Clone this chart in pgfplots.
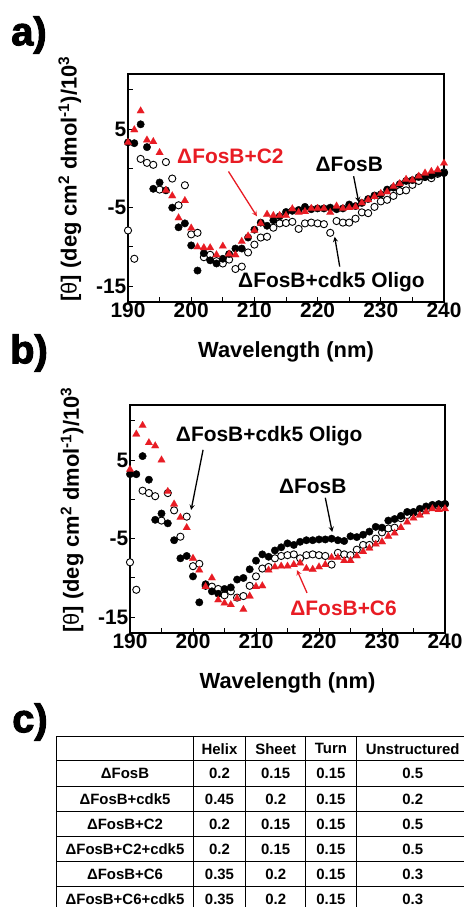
\documentclass[border=0pt]{standalone}
\usepackage{fontspec}
\setmainfont{Liberation Sans}
\newfontfamily\heavyfont{Liberation Sans}[BoldFeatures={FakeBold=2.5}]
\usepackage{pgfplots}
\usepackage{pgfplotstable}
\pgfplotsset{compat=1.18}
\definecolor{cdred}{RGB}{232,28,36}

% panel a: F = dFosB, T = dFosB+C2, O = dFosB+cdk5 oligo
\pgfplotstableread{
nm F T O
190 3.3 3.3 -7.9
191 3.2 4.9 -11.5
192 5.6 7.3 1.2
193 2.7 3.6 0.7
194 -2.6 3.4 0.45
195 -1.8 2.0 -2.7
196 -2.8 -2.8 0.8
197 -5.0 -3.5 -1.3
198 -7.5 -6.3 -4.7
199 -7.0 -4.1 -2.15
200 -9.8 -7.6 -8.4
201 -13.0 -10.0 -8.2
202 -10.8 -10.1 -11.3
203 -11.7 -10.1 -11.0
204 -12.1 -11.0 -11.8
205 -11.5 -9.9 -12.1
206 -10.9 -10.9 -11.6
207 -10.2 -11.0 -12.8
208 -10.2 -9.3 -12.5
209 -8.8 -8.6 -10.7
210 -7.8 -7.9 -9.7
211 -6.9 -7.0 -8.8
212 -7.3 -5.85 -8.7
213 -6.6 -6.0 -7.55
214 -6.1 -6.0 -7.0
215 -5.55 -6.0 -6.95
216 -5.4 -5.15 -6.8
217 -5.3 -5.6 -7.7
218 -4.9 -5.5 -7.0
219 -5.2 -5.1 -6.9
220 -5.1 -5.1 -7.0
221 -5.1 -5.1 -7.1
222 -5.0 -5.6 -8.2
223 -5.2 -4.8 -6.7
224 -5.1 -5.1 -6.9
225 -4.6 -5.0 -6.9
226 -4.8 -4.9 -6.4
227 -4.4 -4.4 -5.6
228 -3.9 -4.0 -5.7
229 -3.45 -3.6 -4.9
230 -3.3 -3.2 -4.2
231 -2.7 -3.0 -4.0
232 -2.45 -2.3 -3.5
233 -2.0 -1.95 -2.9
234 -1.6 -1.4 -2.8
235 -1.5 -1.5 -2.1
236 -1.1 -1.0 -1.6
237 -1.1 -0.6 -1.1
238 -0.9 -0.4 -1.25
239 -0.6 -0.2 -0.7
240 -0.6 0.65 -0.5
}\cdA

% panel b: F = dFosB, T = dFosB+C6, O = dFosB+cdk5 oligo
\pgfplotstableread{
nm F T O
190 3.2 3.8 -8.0
191 3.2 8.3 -11.5
192 5.5 9.4 1.1
193 2.5 7.2 0.8
194 -2.6 6.8 0.4
195 -1.8 5.0 -2.7
196 -3.05 1.0 0.8
197 -5.2 -0.6 -1.4
198 -7.5 -2.3 -4.75
199 -7.2 -3.6 -2.2
200 -9.8 -7.5 -8.5
201 -13.1 -9.0 -8.2
202 -10.8 -11.1 -11.0
203 -11.7 -10.0 -11.1
204 -12.0 -12.8 -11.4
205 -11.4 -13.2 -12.2
206 -11.2 -13.4 -11.7
207 -10.2 -12.6 -12.5
208 -10.0 -14.0 -12.3
209 -8.9 -12.3 -11.0
210 -7.8 -11.1 -9.8
211 -7.0 -11.0 -8.8
212 -7.3 -9.0 -8.6
213 -6.5 -8.6 -7.5
214 -6.1 -8.5 -7.2
215 -5.6 -8.5 -7.1
216 -5.8 -8.3 -7.0
217 -5.4 -8.1 -7.5
218 -5.2 -8.8 -7.1
219 -5.2 -8.9 -7.0
220 -5.1 -8.6 -7.1
221 -5.1 -8.3 -7.2
222 -5.0 -7.4 -8.3
223 -5.2 -7.4 -6.8
224 -5.3 -7.8 -7.0
225 -4.7 -7.8 -7.1
226 -4.8 -7.2 -6.4
227 -4.5 -6.65 -5.8
228 -4.1 -6.2 -5.8
229 -3.5 -5.7 -5.0
230 -3.6 -5.4 -4.2
231 -2.7 -4.7 -3.7
232 -2.5 -4.3 -3.6
233 -2.1 -3.6 -2.4
234 -1.6 -2.9 -2.0
235 -1.6 -2.4 -1.7
236 -1.2 -2.0 -1.6
237 -0.9 -1.6 -1.3
238 -0.7 -1.2 -0.9
239 -0.6 -1.3 -0.8
240 -0.6 -1.2 -0.6
}\cdB

\pgfplotsset{
  cdaxis/.style={
    scale only axis, height=228bp,
    xmin=190, xmax=240, ymin=-17, ymax=12,
    xtick={190,200,...,240}, minor xtick={195,205,...,235},
    ytick={-15,-5,5}, minor ytick={-10,0,10},
    tick align=inside, tick pos=left,
    major tick length=5bp, minor tick length=5bp,
    axis line style={line width=1.2bp},
    every tick/.style={black, line width=1bp},
    tick label style={font=\fontsize{21}{24}\selectfont\bfseries},
    /pgf/number format/assume math mode=true,
    xticklabel style={inner sep=1bp},
    yticklabel style={inner sep=1.5bp},
    label style={font=\fontsize{22}{26}\selectfont\bfseries},
    xlabel={Wavelength (nm)},
    xlabel style={at={(axis description cs:0.5,-0.22)}, anchor=center},
    ylabel={[{\mdseries θ}] (deg cm\textsuperscript{2} dmol\textsuperscript{-1})/10\textsuperscript{3}},
    ylabel style={at={(axis description cs:-0.184,0.54)}, anchor=center, rotate=0},
    clip mode=individual,
  },
  openmk/.style={only marks, mark=*, mark size=3.6bp, mark options={draw=black, fill=white, line width=0.9bp}},
  fillmk/.style={only marks, mark=*, mark size=3.7bp, black},
  trimk/.style={only marks, mark=triangle*, mark size=4.4bp, cdred, mark options={draw=cdred, line width=0.1bp}},
}
\tikzset{
  ann/.style={font=\fontsize{21}{24}\selectfont\bfseries, inner sep=0pt},
  arr/.style={-stealth, line width=1.3bp},
  plab/.style={font=\fontsize{40}{44}\selectfont\heavyfont\bfseries},
}

\begin{document}
\begin{tikzpicture}
\useasboundingbox (0,0) rectangle (464bp,-907bp);

\node[plab] at (29bp,-35bp) {a)};
\node[plab] at (29bp,-353bp) {b)};
\node[plab] at (30bp,-722bp) {c)};

\begin{axis}[cdaxis, width=316bp, at={(128bp,-302bp)}, anchor=south west]
  \addplot[openmk] table[x=nm, y=O] {\cdA};
  \addplot[fillmk] table[x=nm, y=F] {\cdA};
  \addplot[trimk] table[x=nm, y=T] {\cdA};
  \node[ann, text=cdred] at (axis cs:206.2,1.55) {ΔFosB+C2};
  \draw[arr, cdred] (axis cs:205.9,-0.4) -- (axis cs:210.4,-6.1);
  \node[ann] at (axis cs:225.0,0.53) {ΔFosB};
  \draw[arr] (axis cs:225.7,-1.0) -- (axis cs:226.5,-4.3);
  \node[ann] at (axis cs:222.2,-14.5) {ΔFosB+cdk5 Oligo};
  \draw[arr] (axis cs:223.5,-12.5) -- (axis cs:222.7,-8.7);
\end{axis}

\begin{axis}[cdaxis, width=315bp, at={(130bp,-633bp)}, anchor=south west]
  \addplot[openmk] table[x=nm, y=O] {\cdB};
  \addplot[fillmk] table[x=nm, y=F] {\cdB};
  \addplot[trimk] table[x=nm, y=T] {\cdB};
  \node[ann] at (axis cs:212.1,8.05) {ΔFosB+cdk5 Oligo};
  \draw[arr] (axis cs:201.6,6.3) -- (axis cs:199.7,-1.35);
  \node[ann] at (axis cs:219.0,1.7) {ΔFosB};
  \draw[arr] (axis cs:221.0,0.2) -- (axis cs:222.1,-4.15);
  \node[ann, text=cdred] at (axis cs:223.9,-13.8) {ΔFosB+C6};
  \draw[arr, cdred] (axis cs:218.1,-11.9) -- (axis cs:216.5,-9.0);
\end{axis}

% table c
\begin{scope}[x=1bp, y=-1bp, font=\fontsize{15}{18}\selectfont\bfseries]
  \draw[line width=0.8bp] (56.7,736.7) rectangle (472,912);
  \foreach \yy in {760.7,786.7,811.7,836.7,861.7,886.7}
    \draw[line width=0.6bp] (56.7,\yy) -- (472,\yy);
  \foreach \xx in {193.3,245.7,305.7,356}
    \draw[line width=0.6bp] (\xx,736.7) -- (\xx,912);
  \node at (219.5,748.7) {Helix};
  \node at (275.7,748.7) {Sheet};
  \node at (330.9,748.7) {Turn};
  \node at (412.7,748.7) {Unstructured};
  \foreach \yy/\nm/\h/\s/\t/\u in {
      773.7/ΔFosB/0.2/0.15/0.15/0.5,
      799.2/ΔFosB+cdk5/0.45/0.2/0.15/0.2,
      824.2/ΔFosB+C2/0.2/0.15/0.15/0.5,
      849.2/ΔFosB+C2+cdk5/0.2/0.15/0.15/0.5,
      874.2/ΔFosB+C6/0.35/0.2/0.15/0.3,
      899.2/ΔFosB+C6+cdk5/0.35/0.2/0.15/0.3} {
    \node at (125,\yy) {\nm};
    \node at (219.5,\yy) {\h};
    \node at (275.7,\yy) {\s};
    \node at (330.9,\yy) {\t};
    \node at (412.7,\yy) {\u};
  }
\end{scope}
\end{tikzpicture}
\end{document}
